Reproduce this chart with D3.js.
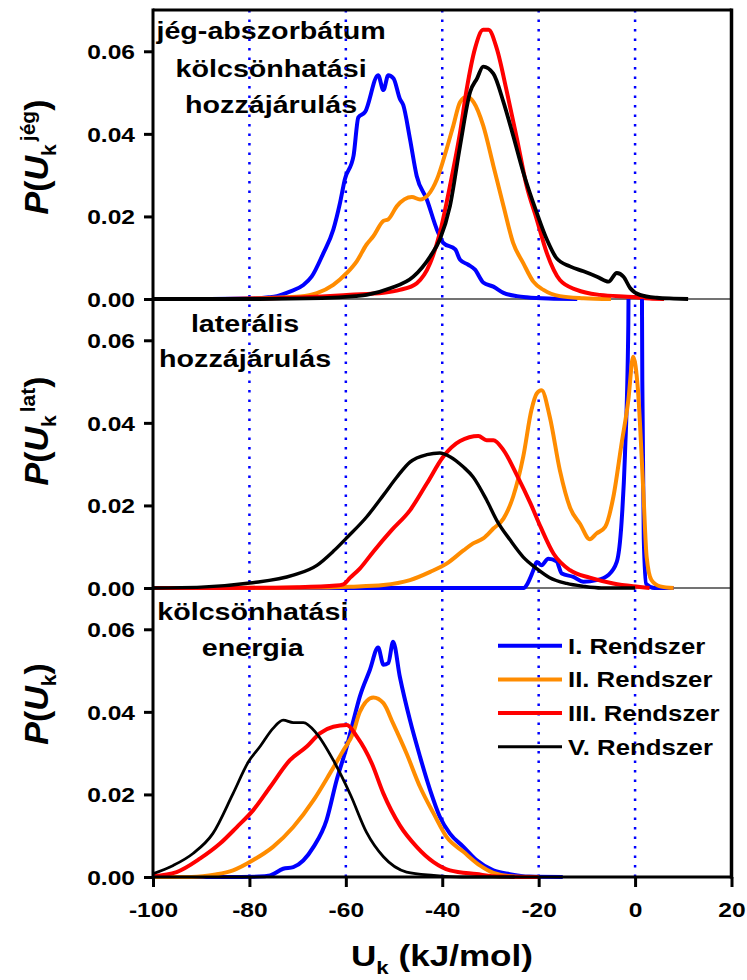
<!DOCTYPE html>
<html>
<head>
<meta charset="utf-8">
<script src="https://cdn.jsdelivr.net/npm/d3@7"></script>
<style>
  body { margin: 0; background: #fff; }
  text { font-family: "Liberation Sans", Arial, sans-serif; font-weight: bold; fill: #000; }
</style>
</head>
<body>
<div id="chart"></div>
<script>
// ---- data ----
const seriesNames = ["I. Rendszer", "II. Rendszer", "III. Rendszer", "V. Rendszer"];
const seriesColors = ["#0000ff", "#ff8c00", "#ff0000", "#000000"];
const xTicks = [-100, -80, -60, -40, -20, 0, 20];
const yTicks = [0, 0.02, 0.04, 0.06];
const guideLines = [-80, -60, -40, -20, 0];

// panel 1: jég-abszorbátum kölcsönhatási hozzájárulás  [U, P]
const jegI = [[-100,0],[-88,0],[-80,0.0001],[-76,0.0004],[-74.3,0.0007],[-71.6,0.0018],[-68.8,0.0034],[-67.1,0.0054],[-64.7,0.011],[-62.6,0.0168],[-61.2,0.0233],[-60.2,0.029],[-58.4,0.0347],[-57.4,0.044],[-56,0.0453],[-53.3,0.0542],[-52.2,0.0506],[-51.2,0.0542],[-50.1,0.0534],[-48.8,0.0485],[-48.1,0.047],[-46.7,0.0388],[-45.3,0.0298],[-43.2,0.0241],[-41.1,0.0168],[-39.8,0.0136],[-37.3,0.012],[-36.3,0.0095],[-34.6,0.0083],[-33.2,0.0071],[-31.5,0.004],[-29.4,0.003],[-27.3,0.0015],[-24.5,0.0007],[-22.5,0.0004],[-18,0.0001],[-12,0]];
const jegII = [[-100,0],[-85,0],[-75,0.0003],[-69.5,0.0006],[-66,0.0014],[-62.6,0.0034],[-59.8,0.0063],[-57.7,0.0092],[-55.7,0.0132],[-54.3,0.0152],[-52.2,0.0189],[-51.2,0.0193],[-49.4,0.0225],[-46.3,0.0247],[-44.6,0.0241],[-41.1,0.029],[-39.1,0.0363],[-37.7,0.042],[-36.3,0.0477],[-34.9,0.049],[-33.5,0.0477],[-31.5,0.042],[-29.4,0.0323],[-27.3,0.0225],[-25.3,0.0136],[-23.2,0.0087],[-21.1,0.0042],[-19,0.0022],[-15.6,0.0007],[-10.7,0.0002],[-5,0]];
const jegIII = [[-100,0],[-92,0],[-75,0.0002],[-65,0.0006],[-59.1,0.001],[-52.2,0.0015],[-48.8,0.0022],[-45.3,0.0038],[-42.5,0.0087],[-40.5,0.016],[-38.4,0.0274],[-36.3,0.0404],[-34.9,0.051],[-33.2,0.0607],[-31.5,0.0652],[-30.4,0.0652],[-28.7,0.0607],[-26.6,0.0502],[-24.5,0.0388],[-22.5,0.0274],[-20.4,0.0193],[-18.3,0.0111],[-15.6,0.0046],[-12.1,0.0022],[-7.3,0.001],[-0.4,0.0005],[3,0.0001],[6,0]];
const jegV = [[-100,0],[-78,0],[-65,0.0002],[-58,0.0007],[-55.7,0.001],[-50.8,0.0026],[-46,0.0054],[-42.5,0.0103],[-40.5,0.0144],[-38.4,0.0225],[-36.3,0.0371],[-34.2,0.0502],[-32.8,0.0534],[-31.5,0.0563],[-29.4,0.0546],[-27.3,0.0477],[-25.3,0.0396],[-23.2,0.0307],[-20.4,0.0209],[-18.3,0.0144],[-16.3,0.0099],[-13.5,0.0079],[-10.7,0.0067],[-7.9,0.0054],[-5.5,0.0042],[-3.8,0.0063],[-2.4,0.0054],[-1,0.0026],[1,0.001],[4.5,0.0003],[8,0.0001],[11,0]];

// panel 2: laterális hozzájárulás
const latI = [[-100,0],[-23,0],[-22.5,0.0007],[-21.1,0.0043],[-20.4,0.0063],[-19.4,0.0055],[-18,0.0071],[-16.3,0.0065],[-15.2,0.0035],[-12.8,0.0027],[-10.7,0.0015],[-8,0.0019],[-5.6,0.0031],[-3.8,0.0063],[-2.8,0.016],[-2.1,0.0322],[-1.4,0.064],[-1.2,0.1],[0,0.15],[1.3,0.1],[1.5,0.05],[1.8,0.012],[2.3,0.001],[4,0],[8,0]];
const latII = [[-100,0],[-85,0],[-65,0.0001],[-59,0.0003],[-52.2,0.0007],[-46.7,0.0019],[-42.5,0.0039],[-39.1,0.0059],[-35.6,0.0091],[-33.6,0.0108],[-31.5,0.012],[-29.4,0.0144],[-27.3,0.0168],[-25.3,0.0221],[-23.2,0.0318],[-21.5,0.0431],[-20.4,0.0471],[-19.4,0.0479],[-17.7,0.0415],[-15.6,0.0285],[-13.5,0.0195],[-11.4,0.0155],[-9.4,0.0118],[-8,0.0132],[-6.2,0.0148],[-4.5,0.0221],[-2.8,0.035],[-1.4,0.0455],[-0.4,0.056],[0.6,0.0479],[1.7,0.0237],[2.4,0.0075],[3.4,0.0019],[5.2,0.0004],[8,0]];
const latIII = [[-100,0],[-85,0],[-70,0.0002],[-62,0.0006],[-60.5,0.0009],[-59.1,0.0025],[-57.1,0.0047],[-54.3,0.0088],[-50.5,0.014],[-46.7,0.0188],[-43.2,0.0253],[-39.8,0.0318],[-36.3,0.0356],[-32.5,0.0368],[-30.8,0.0358],[-29.4,0.0358],[-27.3,0.0334],[-24.5,0.0273],[-21.7,0.0205],[-19.6,0.0148],[-16.9,0.0083],[-13.5,0.0043],[-9.4,0.0025],[-4.5,0.0011],[-0.4,0.0004],[3,0]];
const latV = [[-100,0],[-90,0.0002],[-79.9,0.0012],[-70.9,0.0031],[-66,0.0055],[-62.5,0.009],[-59.6,0.0124],[-55.7,0.0172],[-52.2,0.0225],[-49.4,0.0269],[-46.7,0.0305],[-43.2,0.0323],[-40.5,0.0327],[-38.4,0.0318],[-35.6,0.0293],[-33.6,0.0269],[-30.8,0.0213],[-28.7,0.0164],[-25.9,0.0116],[-23.2,0.0075],[-20.4,0.0047],[-17.7,0.0025],[-14.2,0.0011],[-10.7,0.0004],[-7,0],[0,0]];

// panel 3: kölcsönhatási energia
const totI = [[-100,0],[-85,0],[-78,0.0001],[-75.7,0.0004],[-73,0.002],[-70.9,0.0024],[-66.7,0.0073],[-64,0.0138],[-61.9,0.0235],[-59.8,0.0316],[-58.4,0.038],[-57.1,0.0437],[-55,0.0502],[-53.3,0.0556],[-52.2,0.0514],[-51.2,0.0518],[-50.2,0.057],[-48.8,0.0485],[-46.7,0.038],[-44.6,0.0291],[-42.5,0.021],[-40.5,0.0146],[-38.4,0.0105],[-35.6,0.0073],[-32.9,0.0041],[-29.4,0.0016],[-26,0.0007],[-22,0.0001],[-15,0]];
const totII = [[-100,0],[-92,0],[-87,0.0006],[-83.4,0.0016],[-79.2,0.0041],[-75.1,0.0073],[-70.9,0.0121],[-66.7,0.0186],[-63.3,0.0251],[-60.5,0.0307],[-58.5,0.0348],[-57.1,0.04],[-54.3,0.0435],[-52.2,0.0421],[-50.2,0.0372],[-47.4,0.0299],[-44.6,0.0218],[-41.8,0.0154],[-39.1,0.0097],[-35.6,0.0061],[-32.2,0.0028],[-29.4,0.001],[-25,0.0001],[-20,0]];
const totIII = [[-100,0.0002],[-95.1,0.0012],[-90.2,0.0045],[-86.1,0.0081],[-82.6,0.0121],[-79.2,0.0162],[-75.7,0.0218],[-71.6,0.0283],[-68.1,0.0316],[-65.4,0.0348],[-62.6,0.0364],[-59.8,0.0368],[-57.7,0.034],[-54.6,0.0275],[-52.2,0.0202],[-48.8,0.0125],[-45.3,0.0073],[-41.8,0.0036],[-38.4,0.0016],[-32.9,0.0007],[-28,0.0001],[-20,0]];
const totV = [[-100,0.0008],[-95.8,0.0028],[-91.7,0.0057],[-87.6,0.0105],[-83.4,0.0202],[-80.2,0.0279],[-77.8,0.0316],[-75.1,0.036],[-73,0.038],[-70.9,0.0374],[-68.8,0.0374],[-66.1,0.0348],[-62.6,0.0283],[-59,0.0198],[-55.7,0.0108],[-52.2,0.0049],[-47.4,0.0012],[-41.8,0.0004],[-36,0],[-25,0]];

const panels = [
  { series: [jegI, jegII, jegIII, jegV], title: ["jég-abszorbátum", "kölcsönhatási", "hozzájárulás"], titleU: -75.5, titleRows: [29, 67, 103], sup: "jég", labelY: 157, blackW: 3.8 },
  { series: [latI, latII, latIII, latV], title: ["laterális", "hozzájárulás"], titleU: -80.9, titleRows: [33, 68], sup: "lat", labelY: 431, blackW: 3.4 },
  { series: [totI, totII, totIII, totV], title: ["kölcsönhatási", "energia"], titleU: -79.3, titleRows: [32, 68], sup: null, labelY: 704, blackW: 2.8 }
];

// ---- layout ----
const W = 747, H = 980;
const left = 153, right = 731.5;
const panelTop = 10, panelH = 289;
const SX = 1.17; // horizontal text stretch seen in the reference

const svg = d3.select("#chart").append("svg")
  .attr("width", W).attr("height", H);

const x = d3.scaleLinear().domain([-100, 20]).range([left, right]);

function stretched(g, px, py, str, size, anchor) {
  return g.append("text")
    .attr("transform", `translate(${px},${py}) scale(${SX},1)`)
    .attr("text-anchor", anchor || "start")
    .style("font-size", size + "px")
    .text(str);
}

const bottomAll = panelTop + panelH * panels.length;
const defs = svg.append("defs");

panels.forEach((p, i) => {
  const top = panelTop + i * panelH;
  const bottom = top + panelH;
  const y = d3.scaleLinear().domain([0, 0.07]).range([bottom, top]);
  const g = svg.append("g");

  // y axis ticks + labels
  const ax = g.append("g")
    .attr("transform", `translate(${left},0)`)
    .call(d3.axisLeft(y).tickValues(yTicks).tickFormat(d3.format(".2f")).tickSize(9).tickSizeOuter(0));
  ax.select(".domain").remove();
  ax.selectAll(".tick line").attr("stroke", "#000").attr("stroke-width", 3);
  ax.selectAll(".tick text")
    .attr("x", -18 / SX)
    .attr("dy", "0.36em")
    .attr("transform", `scale(${SX},1)`)
    .style("font-size", "21px")
    .style("font-family", "'Liberation Sans', Arial, sans-serif")
    .style("font-weight", "bold");

  // panel titles
  p.title.forEach((t, k) => stretched(g, x(p.titleU), top + p.titleRows[k], t, 24.5, "middle"));

  // y axis label
  const lab = g.append("text")
    .attr("transform", `translate(48,${p.labelY}) rotate(-90)`)
    .attr("text-anchor", "middle")
    .style("font-size", "34px");
  lab.append("tspan").style("font-style", "italic").text("P");
  lab.append("tspan").text("(");
  lab.append("tspan").style("font-style", "italic").text("U");
  lab.append("tspan").attr("dy", 8).style("font-size", "21px").text("k");
  if (p.sup) {
    lab.append("tspan").attr("dy", -21).attr("dx", 3).style("font-size", "21px").text(p.sup);
    lab.append("tspan").attr("dy", 13).text(")");
  } else {
    lab.append("tspan").attr("dy", -8).text(")");
  }

  // thin baseline between panels
  if (i < panels.length - 1) {
    g.append("line")
      .attr("x1", left).attr("x2", right)
      .attr("y1", bottom).attr("y2", bottom)
      .attr("stroke", "#444").attr("stroke-width", 1.5);
  }

  defs.append("clipPath").attr("id", "clip" + i)
    .append("rect")
    .attr("x", left).attr("y", top)
    .attr("width", right - left).attr("height", panelH + 2);

  p.y = y;
});

// dotted guide lines over the whole height
svg.append("g").selectAll("line")
  .data(guideLines)
  .join("line")
  .attr("x1", d => x(d)).attr("x2", d => x(d))
  .attr("y1", panelTop).attr("y2", bottomAll)
  .attr("stroke", "#0000ff")
  .attr("stroke-width", 2.5)
  .attr("stroke-dasharray", "2.5,7");

// curves
panels.forEach((p, i) => {
  const line = d3.line()
    .x(d => x(d[0]))
    .y(d => p.y(d[1]))
    .curve(d3.curveMonotoneX);
  svg.append("g")
    .attr("clip-path", `url(#clip${i})`)
    .selectAll("path")
    .data(p.series)
    .join("path")
    .attr("fill", "none")
    .attr("stroke", (d, k) => seriesColors[k])
    .attr("stroke-width", (d, k) => k === 3 ? p.blackW : 4)
    .attr("stroke-linejoin", "round")
    .attr("d", line);
});

// frame
svg.append("line").attr("x1", left).attr("x2", left).attr("y1", panelTop - 1.5).attr("y2", bottomAll + 1.5)
  .attr("stroke", "#000").attr("stroke-width", 3);
svg.append("line").attr("x1", right).attr("x2", right).attr("y1", panelTop - 1.5).attr("y2", bottomAll + 1.5)
  .attr("stroke", "#000").attr("stroke-width", 3.5);
svg.append("line").attr("x1", left).attr("x2", right).attr("y1", panelTop).attr("y2", panelTop)
  .attr("stroke", "#000").attr("stroke-width", 3);
svg.append("line").attr("x1", left).attr("x2", right).attr("y1", bottomAll).attr("y2", bottomAll)
  .attr("stroke", "#000").attr("stroke-width", 3);

// x axis
const xa = svg.append("g")
  .attr("transform", `translate(0,${bottomAll})`)
  .call(d3.axisBottom(x).tickValues(xTicks).tickFormat(d3.format("d")).tickSize(10).tickSizeOuter(0));
xa.select(".domain").remove();
xa.selectAll(".tick line").attr("stroke", "#000").attr("stroke-width", 3);
xa.selectAll(".tick text")
  .attr("y", 25)
  .attr("dy", "0.72em")
  .attr("transform", `scale(${SX},1)`)
  .style("font-size", "21px")
  .style("font-family", "'Liberation Sans', Arial, sans-serif")
  .style("font-weight", "bold")
  .text(d => d < 0 ? "-" + Math.abs(d) : d);

// x axis label
const xl = svg.append("text")
  .attr("transform", `translate(442,966) scale(${SX},1)`)
  .attr("text-anchor", "middle")
  .style("font-size", "30px");
xl.append("tspan").text("U");
xl.append("tspan").attr("dy", 8).style("font-size", "19px").text("k");
xl.append("tspan").attr("dy", -8).text(" (kJ/mol)");

// legend (bottom panel)
const leg = svg.append("g");
const legX = 498, legY = 645.7, legStep = 33.7;
seriesNames.forEach((name, k) => {
  const ly = legY + k * legStep;
  leg.append("line")
    .attr("x1", legX).attr("x2", legX + 64)
    .attr("y1", ly).attr("y2", ly)
    .attr("stroke", seriesColors[k])
    .attr("stroke-width", k === 3 ? 3 : 4);
  stretched(leg, legX + 70, ly + 8, name, 22, "start");
});
</script>
</body>
</html>
